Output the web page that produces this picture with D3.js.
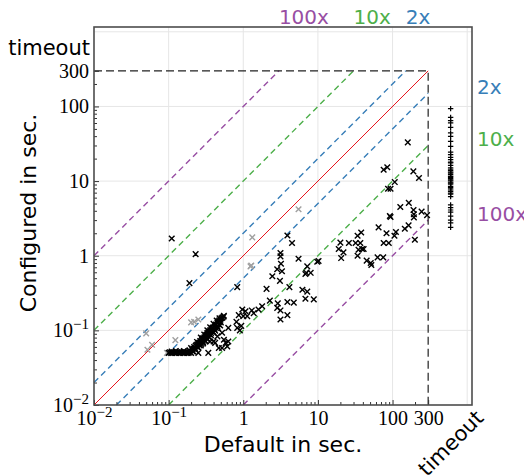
<!DOCTYPE html>
<html>
<head>
<meta charset="utf-8">
<script src="https://cdn.jsdelivr.net/npm/d3@7"></script>
<style>
  body { margin: 0; background: #fff; }
</style>
</head>
<body>
<div id="chart"></div>
<script>
// runtime scatter, default vs configured, log-log

var timeoutVal = 600;   // where timed-out runs are drawn
var limitVal = 300;     // time limit in sec.

var factors = [2, 10, 100];
var factorLabels = ["2x", "10x", "100x"];
var factorColors = ["#377eb8", "#4daf4a", "#984ea3"];

var majorTicks = [0.01, 0.1, 1, 10, 100, 300];
var majorLabels = ["10^-2", "10^-1", "1", "10", "100", "300"];

// [default, configured] for runs solved by both
var solvedPoints = [
  [0.11,1.7],[0.23,1.05],[0.19,0.43],[0.83,0.38],[3.9,1.87],[4.5,1.48],[3.15,1.09],[3.15,0.98],
  [3.2,0.78],[2.85,0.66],[3.3,0.62],[2.45,0.53],[3.1,0.46],[5.5,0.91],[7.2,0.72],[7.0,0.59],
  [2.05,0.36],[4.15,0.38],[2.27,0.25],[2.9,0.23],[3.9,0.24],[4.75,0.235],[2.85,0.2],[3.15,0.185],
  [3.9,0.16],[3.15,0.14],[0.97,0.19],[1.07,0.18],[1.3,0.185],[1.6,0.19],[0.87,0.16],[1.0,0.155],
  [1.38,0.17],[0.81,0.13],[0.94,0.115],[0.9,0.1],[1.13,0.155],[0.83,0.108],[0.63,0.108],[0.52,0.093],
  [0.42,0.068],[0.58,0.068],[0.47,0.058],[0.63,0.071],[0.45,0.083],[0.55,0.075],[0.40,0.071],[0.61,0.061],
  [0.52,0.058],[0.25,0.05],[0.34,0.05],[0.36,0.071],[1.79,0.21],
  [9.8,0.83],[10.2,0.85],[6.8,0.57],[8.0,0.59],[6.2,0.35],[7.2,0.33],[6.8,0.265],[8.8,0.26],
  [20,1.5],[26,1.48],[32,1.48],[38,2.05],[34,1.85],[37,1.48],[19,1.23],[22,1.11],[35,1.2],[39,1.23],
  [41,1.23],[20.5,0.93],[34,1.0],[45,0.86],[51,0.8],[52,0.75],[63,0.95],[75,0.95],[65,2.4],[83,2.0],
  [76,1.48],[89,1.48],[92,3.4],[160,33],[76,14.2],[85,15.3],[190,13.5],[226,11],[87,7.9],[94,7.9],
  [107,9.7],[127,4.5],[165,5.1],[191,4.1],[193,3.6],[193,3.26],[245,3.9],[290,3.5],[94,3.3],[111,2.08],
  [106,1.85],[146,2.3],[164,2.55],[199,1.64],
  // dense band near 0.05 - 0.15 s
  [0.1,0.05],[0.104,0.051],[0.108,0.05],[0.112,0.05],[0.117,0.051],[0.122,0.05],[0.127,0.05],[0.132,0.051],
  [0.138,0.05],[0.144,0.05],[0.15,0.051],[0.156,0.05],[0.163,0.05],[0.17,0.051],[0.177,0.05],[0.185,0.05],
  [0.193,0.051],[0.2,0.05],[0.21,0.052],[0.11,0.052],[0.125,0.053],[0.14,0.052],[0.16,0.053],[0.18,0.052],
  [0.19,0.054],[0.205,0.056],[0.215,0.057],[0.22,0.06],[0.23,0.062],[0.236,0.064],[0.245,0.065],[0.25,0.068],
  [0.259,0.068],[0.265,0.072],[0.27,0.071],[0.28,0.075],[0.284,0.078],[0.29,0.077],[0.3,0.08],[0.311,0.082],
  [0.315,0.086],[0.325,0.088],[0.33,0.092],[0.341,0.093],[0.35,0.097],[0.36,0.1],[0.374,0.102],[0.38,0.106],
  [0.39,0.109],[0.411,0.112],[0.42,0.117],[0.43,0.12],[0.451,0.126],[0.46,0.131],[0.475,0.135],[0.494,0.139],
  [0.51,0.145],[0.525,0.148],[0.543,0.152],[0.55,0.157],[0.2,0.058],[0.225,0.058],[0.24,0.06],[0.26,0.063],
  [0.275,0.066],[0.29,0.07],[0.305,0.074],[0.32,0.078],[0.34,0.083],[0.355,0.088],[0.37,0.092],[0.39,0.097],
  [0.41,0.103],[0.43,0.108],[0.45,0.113],[0.47,0.12],[0.5,0.128],[0.24,0.07],[0.27,0.08],[0.3,0.088],
  [0.33,0.1],[0.36,0.11],[0.4,0.122],[0.44,0.135],[0.48,0.145],
  [0.215,0.052],[0.23,0.055],[0.25,0.059],[0.27,0.063],[0.29,0.067],[0.31,0.071],[0.33,0.076],
  [0.35,0.081],[0.37,0.086],[0.4,0.093],[0.42,0.099],[0.46,0.107],[0.49,0.116]
];

// gray runs
var grayPoints = [
  [0.05,0.091],[0.06,0.064],[0.052,0.055],[0.095,0.05],[0.123,0.074],[0.22,0.13],[0.2,0.128],
  [0.25,0.14],[1.32,1.76],[1.25,0.72],[1.28,0.74],[5.5,4.2]
];

// configured times where the default run timed out
var timeoutConfigured = [
  93.4,71.4,64.5,60.1,52.5,44.2,39.7,34.1,29.2,24.5,22.6,20.8,19.4,17.5,16.2,15.0,13.8,12.8,12.2,11.2,
  10.4,9.7,9.1,8.5,7.9,7.3,6.7,6.2,4.8,4.4,4.1,3.85,3.4,3.0,2.75,2.4,
  18.0,14.4,13.2,11.6,10.8,10.1,9.4,8.2,7.6,6.9
];

var svgWidth = 524;
var svgHeight = 476;
var margin = { top: 27, right: 52, bottom: 71, left: 94 };
var width = svgWidth - margin.left - margin.right;
var height = svgHeight - margin.top - margin.bottom;

var svg = d3.select("#chart").append("svg")
    .attr("width", svgWidth)
    .attr("height", svgHeight);

var chartGroup = svg.append("g")
    .attr("transform", `translate(${margin.left}, ${margin.top})`);

var x = d3.scaleLog().domain([0.01, 1160]).range([0, width]);
var y = d3.scaleLog().domain([0.01, 1160]).range([height, 0]);

// grid
var gridVals = [0.1, 1, 10, 100, 1000];
chartGroup.selectAll(".gridx").data(gridVals).enter().append("line")
    .attr("x1", d => x(d)).attr("x2", d => x(d))
    .attr("y1", 0).attr("y2", height)
    .attr("stroke", "#e6e6e6").attr("stroke-width", 1);
chartGroup.selectAll(".gridy").data(gridVals).enter().append("line")
    .attr("y1", d => y(d)).attr("y2", d => y(d))
    .attr("x1", 0).attr("x2", width)
    .attr("stroke", "#e6e6e6").attr("stroke-width", 1);

var line = d3.line().x(d => x(d[0])).y(d => y(d[1]));

// factor lines
factors.forEach(function(f, i) {
    chartGroup.append("path")
        .datum([[0.01, 0.01 * f], [limitVal / f, limitVal]])
        .attr("d", line)
        .attr("fill", "none").attr("stroke", factorColors[i])
        .attr("stroke-width", 1.4).attr("stroke-dasharray", "6,4");
    chartGroup.append("path")
        .datum([[0.01 * f, 0.01], [limitVal, limitVal / f]])
        .attr("d", line)
        .attr("fill", "none").attr("stroke", factorColors[i])
        .attr("stroke-width", 1.4).attr("stroke-dasharray", "6,4");

    svg.append("text")
        .attr("x", margin.left + x(limitVal / f))
        .attr("y", 24)
        .attr("font-family", "DejaVu Sans")
        .attr("font-size", 20)
        .attr("fill", factorColors[i])
        .text(factorLabels[i]);
    svg.append("text")
        .attr("x", margin.left + width + 5)
        .attr("y", margin.top + y(limitVal / f) + 1)
        .attr("font-family", "DejaVu Sans")
        .attr("font-size", 20)
        .attr("fill", factorColors[i])
        .text(factorLabels[i]);
});

// y = x
chartGroup.append("path")
    .datum([[0.01, 0.01], [limitVal, limitVal]])
    .attr("d", line)
    .attr("fill", "none").attr("stroke", "#e8141c").attr("stroke-width", 1);

// time limit box
chartGroup.append("path")
    .datum([[0.01, limitVal], [limitVal, limitVal], [limitVal, 0.01]])
    .attr("d", line)
    .attr("fill", "none").attr("stroke", "#222")
    .attr("stroke-width", 1.2).attr("stroke-dasharray", "8,4");

// markers
var crossPath = "M-2.8,-2.8L2.8,2.8M-2.8,2.8L2.8,-2.8";
var plusPath = "M-2.7,0H2.7M0,-2.7V2.7";

chartGroup.selectAll(".gray").data(grayPoints).enter().append("path")
    .attr("transform", d => `translate(${x(d[0])}, ${y(d[1])})`)
    .attr("d", crossPath)
    .attr("stroke", "#a0a0a0").attr("stroke-width", 1.4);

chartGroup.selectAll(".solved").data(solvedPoints).enter().append("path")
    .attr("transform", d => `translate(${x(d[0])}, ${y(d[1])})`)
    .attr("d", crossPath)
    .attr("stroke", "#000").attr("stroke-width", 1.4);

chartGroup.selectAll(".tout").data(timeoutConfigured).enter().append("path")
    .attr("transform", d => `translate(${x(timeoutVal)}, ${y(d)})`)
    .attr("d", plusPath)
    .attr("stroke", "#000").attr("stroke-width", 1.2);

// axes (ticks point inward)
var minorTicks = [];
[0.01, 0.1, 1, 10, 100].forEach(function(dec) {
    for (var k = 2; k <= 9; k++) {
        if (k * dec < limitVal) minorTicks.push(k * dec);
    }
});

function supLabels(sel) {
    sel.select(".domain").remove();
    sel.selectAll(".tick line").attr("stroke", "#333");
    sel.selectAll(".tick text").each(function() {
        var t = d3.select(this);
        var s = t.text();
        if (s.indexOf("^") > -1) {
            var parts = s.split("^");
            t.text(parts[0]);
            t.append("tspan").attr("dy", -8).attr("font-size", 15)
                .text(parts[1].replace("-", "\u2212"));
        }
    });
}

chartGroup.append("g")
    .attr("transform", `translate(0, ${height})`)
    .call(d3.axisBottom(x).tickValues(minorTicks).tickSize(-3).tickFormat(""))
    .call(g => g.select(".domain").remove())
    .call(g => g.selectAll(".tick line").attr("stroke", "#333"));
chartGroup.append("g")
    .call(d3.axisLeft(y).tickValues(minorTicks).tickSize(-3).tickFormat(""))
    .call(g => g.select(".domain").remove())
    .call(g => g.selectAll(".tick line").attr("stroke", "#333"));

chartGroup.append("g")
    .attr("transform", `translate(0, ${height})`)
    .attr("class", "xaxis")
    .call(d3.axisBottom(x).tickValues(majorTicks).tickSize(-5).tickPadding(6)
        .tickFormat((d, i) => majorLabels[i]))
    .attr("font-family", "Liberation Serif")
    .attr("font-size", 20)
    .call(supLabels);

chartGroup.append("g")
    .attr("class", "yaxis")
    .call(d3.axisLeft(y).tickValues(majorTicks).tickSize(-5).tickPadding(5)
        .tickFormat((d, i) => majorLabels[i]))
    .attr("font-family", "Liberation Serif")
    .attr("font-size", 20)
    .call(supLabels);

// frame
chartGroup.append("rect")
    .attr("width", width).attr("height", height)
    .attr("fill", "none").attr("stroke", "#4d4d4d").attr("stroke-width", 1.6);

// timeout labels
svg.append("text")
    .attr("x", margin.left - 4)
    .attr("y", margin.top + y(timeoutVal) + 7)
    .attr("text-anchor", "end")
    .attr("font-family", "DejaVu Sans")
    .attr("font-size", 21)
    .text("timeout");

svg.append("text")
    .attr("transform", `translate(${margin.left + x(timeoutVal)}, 443) rotate(-45)`)
    .attr("text-anchor", "middle")
    .attr("dy", "0.35em")
    .attr("font-family", "DejaVu Sans")
    .attr("font-size", 21)
    .text("timeout");

// axis titles
svg.append("text")
    .attr("x", margin.left + width / 2)
    .attr("y", 452)
    .attr("text-anchor", "middle")
    .attr("font-family", "DejaVu Sans")
    .attr("font-size", 22)
    .text("Default in sec.");

svg.append("text")
    .attr("transform", "translate(36, 213) rotate(-90)")
    .attr("text-anchor", "middle")
    .attr("font-family", "DejaVu Sans")
    .attr("font-size", 22)
    .text("Configured in sec.");
</script>
</body>
</html>
